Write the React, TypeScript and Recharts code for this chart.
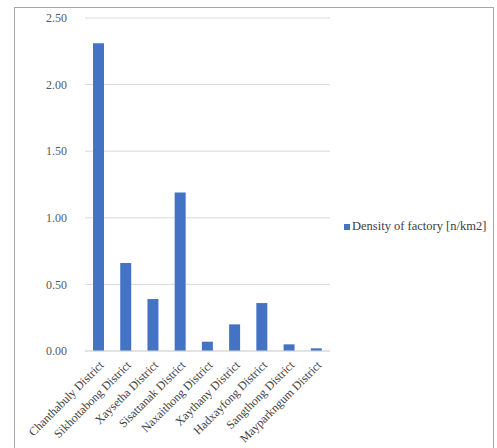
import React from "react";
import { BarChart, Bar, XAxis, YAxis, CartesianGrid, Legend } from "recharts";

const districts = [
  "Chanthabuly District",
  "Sikhottabong District",
  "Xaysetha District",
  "Sisattanak District",
  "Naxaithong District",
  "Xaythany District",
  "Hadxayfong District",
  "Sangthong District",
  "Mayparkngum District",
];
const densityValues = [2.31, 0.66, 0.39, 1.19, 0.07, 0.2, 0.36, 0.05, 0.02];
const yTicks = [0, 0.5, 1, 1.5, 2, 2.5];
const seriesName = "Density of factory [n/km2]";

const data = districts.map((d, i) => ({ name: d, value: densityValues[i] }));

const FONT = '"Liberation Serif", "DejaVu Serif", serif';

const XTick = (props: any) => {
  const { x, y, payload } = props;
  return (
    <g transform={`translate(${x + 3},${y + 4})`}>
      <text
        transform="rotate(-45)"
        textAnchor="end"
        dy={4}
        fontSize={12}
        fill="#404040"
        fontFamily={FONT}
      >
        {payload.value}
      </text>
    </g>
  );
};

export default function App() {
  return (
    <div style={{ position: "absolute", left: 0, top: 0, width: 497, height: 448, background: "#fff" }}>
      <div
        style={{
          position: "absolute",
          left: 14,
          top: 7,
          width: 480,
          height: 445,
          border: "1px solid #a6a6a6",
          boxSizing: "border-box",
        }}
      />
      <BarChart
        width={497}
        height={448}
        data={data}
        margin={{ top: 18, right: 167, left: 0, bottom: 0 }}
        barSize={11}
        style={{ position: "absolute", left: 0, top: 0 }}
      >
        <CartesianGrid vertical={false} stroke="#d9d9d9" />
        <XAxis
          dataKey="name"
          interval={0}
          height={97}
          tickLine={false}
          axisLine={{ stroke: "#d9d9d9" }}
          tick={<XTick />}
        />
        <YAxis
          width={85}
          domain={[0, 2.5]}
          ticks={yTicks}
          tickFormatter={(v: number) => v.toFixed(2)}
          axisLine={false}
          tickLine={false}
          tick={{ fontSize: 12, fill: "#595959", fontFamily: FONT }}
          tickMargin={12}
        />
        <Legend
          layout="vertical"
          align="center"
          verticalAlign="middle"
          iconType="square"
          iconSize={6}
          wrapperStyle={{
            left: 344,
            top: 219,
            width: 160,
            whiteSpace: "nowrap",
            fontFamily: FONT,
            fontSize: 12.5,
          }}
          formatter={(v: string) => (
            <span style={{ color: "#404040", marginLeft: -2, whiteSpace: "nowrap" }}>{v}</span>
          )}
        />
        <Bar dataKey="value" name={seriesName} fill="#4472C4" isAnimationActive={false} />
      </BarChart>
    </div>
  );
}
